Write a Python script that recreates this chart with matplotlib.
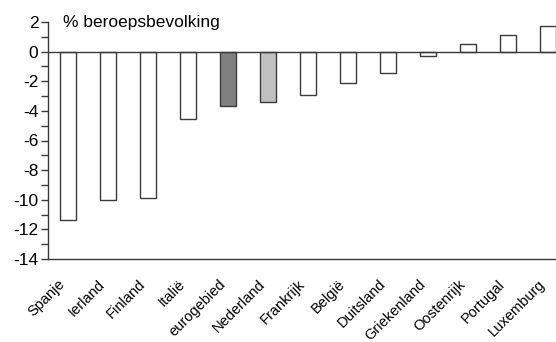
import matplotlib
matplotlib.use("Agg")
import matplotlib.pyplot as plt
import matplotlib.ticker as ticker

plt.rcParams.update({
    "font.family": ["Liberation Sans", "DejaVu Sans"],
    "font.size": 12,
    "axes.unicode_minus": False,
})

countries = ["Spanje", "Ierland", "Finland", "Italië", "eurogebied", "Nederland",
             "Frankrijk", "België", "Duitsland", "Griekenland", "Oostenrijk",
             "Portugal", "Luxemburg"]
values = [-11.35, -10.0, -9.9, -4.55, -3.7, -3.4, -2.9, -2.15, -1.45, -0.27,
          0.52, 1.12, 1.76]
fills = ["white"] * 4 + ["#808080", "#c0c0c0"] + ["white"] * 7

fig = plt.figure(figsize=(5.56, 3.42), dpi=100)
ax = fig.add_axes([48 / 556, 83 / 342, 520 / 556, 237 / 342])

x = list(range(len(countries)))
ax.bar(x, values, width=0.41, color=fills, edgecolor="#3a3a3a", linewidth=1.0, zorder=3)
ax.axhline(0, color="#3a3a3a", linewidth=1.0, zorder=4)

ax.set_xlim(-0.5, len(countries) - 0.5)
ax.set_ylim(-14, 2)
ax.yaxis.set_major_locator(ticker.MultipleLocator(2))
ax.yaxis.set_minor_locator(ticker.MultipleLocator(1))
ax.tick_params(axis="y", which="both", direction="out", length=5, width=1,
               color="#3a3a3a", pad=2, labelsize=12.5)
ax.set_xticks(x)
ax.set_xticklabels(countries, rotation=45, ha="right", va="top", fontsize=10.5)
ax.tick_params(axis="x", length=0, pad=13)

for s in ["top", "right"]:
    ax.spines[s].set_visible(False)
for s in ["left", "bottom"]:
    ax.spines[s].set_color("#3a3a3a")
    ax.spines[s].set_linewidth(1.0)

ax.text(-0.12, 2, "% beroepsbevolking", ha="left", va="center", fontsize=12.5)

fig.savefig("out.png", dpi=100)
